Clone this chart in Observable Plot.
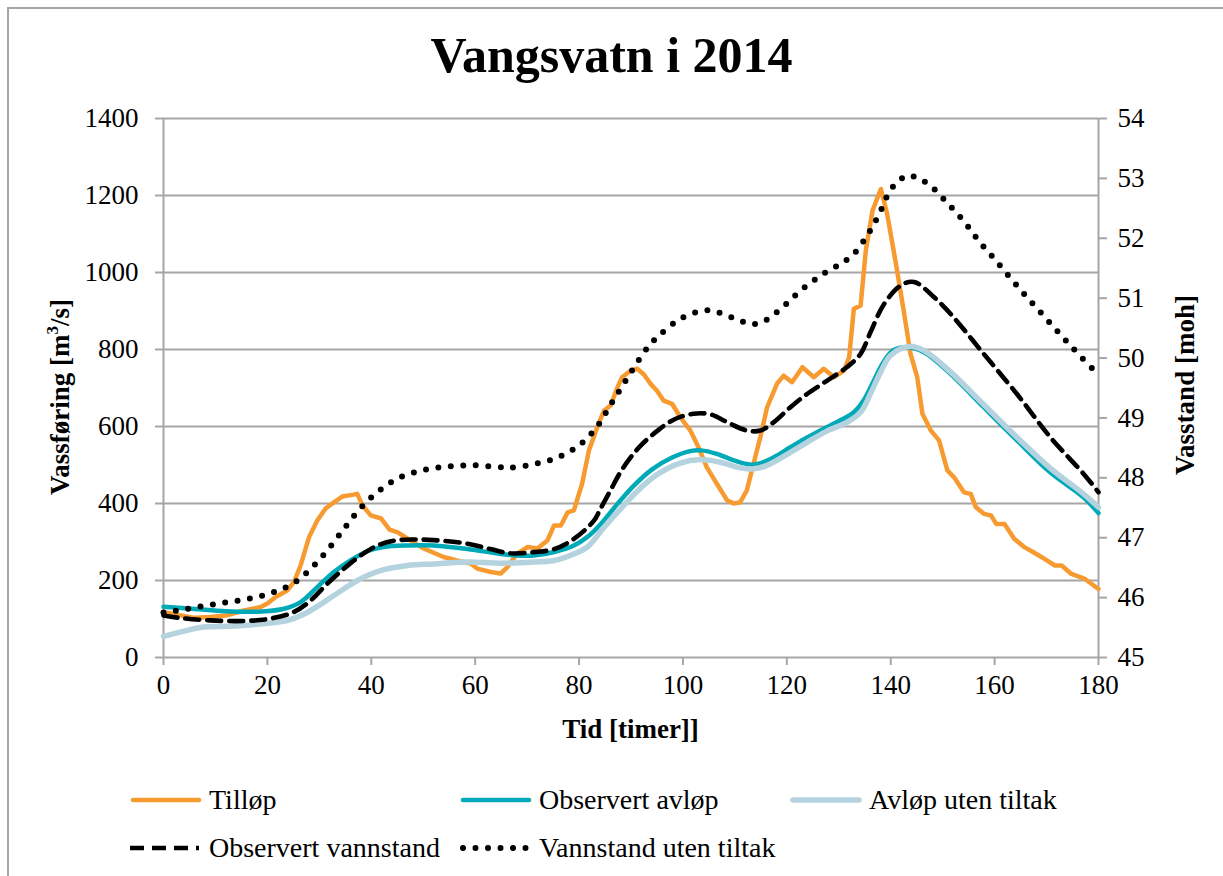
<!DOCTYPE html>
<html>
<head>
<meta charset="utf-8">
<script src="https://cdn.jsdelivr.net/npm/d3@7"></script>
<script src="https://cdn.jsdelivr.net/npm/@observablehq/plot@0.6"></script>
<style>
  html, body { margin: 0; padding: 0; background: #fff; }
  #page { position: relative; width: 1223px; height: 876px; overflow: hidden; font-family: "Liberation Serif", serif; color: #000; }
  .bt { position: absolute; left: 8px; top: 7px; width: 1215px; height: 2px; background: #a6a6a6; }
  .bl { position: absolute; left: 7px; top: 7px; width: 2px; height: 869px; background: #a6a6a6; }
  #title { position: absolute; left: 0; width: 1223px; top: 30px; text-align: center; font-weight: bold; font-size: 50px; line-height: 1; }
  #chart { position: absolute; left: 0; top: 0; }
  .axl { position: absolute; font-weight: bold; font-size: 27px; line-height: 1; white-space: nowrap; }
  .axl sup { font-size: 17px; vertical-align: 11px; line-height: 0; }
  .leg { position: absolute; display: flex; align-items: center; font-size: 28px; line-height: 1; white-space: nowrap; }
  .leg svg { margin-right: 7px; }
</style>
</head>
<body>
<div id="page">
  <div class="bt"></div><div class="bl"></div>
  <div id="title">Vangsvatn i 2014</div>
  <div id="chart"></div>
  <div class="axl" id="xl" style="left:0;width:1261px;text-align:center;top:716px;">Tid [timer]]</div>
  <div class="axl" id="yl" style="left:60px;top:397px;transform:translate(-50%,-50%) rotate(-90deg);">Vassføring [m<sup>3</sup>/s]</div>
  <div class="axl" id="yr" style="left:1185px;top:385px;transform:translate(-50%,-50%) rotate(-90deg);">Vasstand [moh]</div>
  <div id="legend"></div>
</div>
<script>
// ---------- data ----------
const xTicks = [0, 20, 40, 60, 80, 100, 120, 140, 160, 180];
const leftTicks = [0, 200, 400, 600, 800, 1000, 1200, 1400];
const rightTicks = [45, 46, 47, 48, 49, 50, 51, 52, 53, 54];

const tillopT = [0,3,6,9,12,15.5,18.7,20,21.6,23.8,25.1,26.4,28,29.6,31.2,32.8,34.4,36.6,37.3,38.3,39.9,41.9,43.5,45.1,47,50.1,53.9,56.5,59.1,60.4,63,64.9,66.2,68.1,70.1,72,73.9,75.2,76.5,77.8,79,80.6,81.9,83.5,84.8,86.1,87.4,88.3,89.9,91.2,92.5,93.8,95,96.3,97.9,99.5,101.4,103,104.6,106.5,108.5,109.8,111,112.3,113.6,114.9,116.2,118.1,119.4,121,123,125.2,127.1,129.1,131,132,132.9,134.2,135.2,136.5,138.1,139.3,140.9,142.5,143.8,145.1,146.1,147.7,149.3,150.9,152.2,154.1,155.4,156.4,158,159.3,160.3,161.9,163.8,165.8,167.4,169.6,171.6,172.9,174.8,177.4,180];
const tillopV = [118,110,103,105,109,122,131,140,157,174,196,239,312,356,387,403,418,423,425,395,369,361,332,325,309,283,261,252,244,231,222,218,235,270,287,283,304,343,343,377,382,452,538,598,641,655,702,728,745,750,735,710,693,667,659,624,590,546,494,452,408,400,403,434,504,572,650,711,732,715,754,728,750,728,745,780,906,914,1057,1161,1217,1153,1031,901,789,728,633,590,564,486,468,429,425,390,373,369,347,347,308,286,274,256,239,239,217,204,178];

const obsAvlopT = [0,6,12,18,23,26.4,29.6,32.8,36,39.2,42.4,47,52,58.5,64.9,68,71.3,75.2,79,81.6,84.2,87.4,90.6,94,98,101.4,103.5,106.5,109.8,113,115,117.5,120.7,124,127.1,130.3,132.9,134.8,136.5,138.5,140.5,143.2,146.4,151.5,157.9,164.3,170.7,177.1,180];
const obsAvlopV = [132,126,120,119,126,144,183,222,252,276,287,291,291,282,269,265,265,274,291,313,347,399,447,488,520,536,538,529,512,501,505,520,546,572,594,616,637,668,712,765,798,806,793,737,650,564,481,416,375];

const utenAvlopT = [0,3.2,7.7,12.3,18.7,23.8,27.1,30.9,34.7,38.6,42.4,47,52,58.5,64.9,71.3,75.2,79,81.6,84.8,88,91.2,95,99.5,103.3,107.2,111,113.6,116.2,120.7,123.9,127.7,131.6,134.2,136.1,138,140,143.5,146.4,151.5,157.9,164.3,170.7,177.1,180];
const utenAvlopV = [55,66,79,81,87,96,113,144,178,209,228,239,243,248,245,248,252,269,287,338,386,432,475,505,514,507,493,490,499,533,559,588,611,637,685,740,785,808,797,742,657,572,492,425,390];

const obsVannT = [0,3.2,9,15.5,20.6,25.1,28.3,31.5,34.7,37.9,41.2,44.4,48,52,58.5,62.9,66.8,71.3,75.2,79,82.9,84.1,86.1,88,90,92,95,98.2,102,105.3,108.5,112.3,114.9,117.5,120.7,123.9,127.7,131.6,134.2,136.1,138.7,141.9,144.5,148.3,151.5,157.9,164.3,170.7,177.1,180];
const obsVannV = [45.70,45.66,45.62,45.61,45.65,45.76,45.95,46.23,46.48,46.70,46.87,46.95,46.97,46.96,46.90,46.81,46.74,46.76,46.81,46.98,47.29,47.48,47.80,48.10,48.35,48.55,48.78,48.97,49.07,49.06,48.93,48.79,48.79,48.93,49.18,49.40,49.62,49.85,50.07,50.43,50.90,51.21,51.27,51.02,50.74,50.07,49.40,48.68,48.07,47.76];

const utenVannT = [0,2.3,7.1,11.9,16.4,21.2,25.4,29,32.2,35.1,38.1,41.6,45.6,50.1,54.8,59.6,64.4,66.8,71.4,75.9,80.1,83.5,86,88.6,91,93.6,95.7,99.4,103.7,106.1,110.6,112.9,115.3,119.2,122.7,126.6,130.4,132.6,135.5,137.8,139.7,141.2,143.3,145.5,147.6,151,154.2,157.1,160.2,163.3,166.4,169.6,172.8,176,180];
const utenVannV = [45.75,45.78,45.85,45.92,45.98,46.09,46.26,46.54,46.86,47.19,47.51,47.79,48.01,48.13,48.19,48.21,48.18,48.17,48.23,48.34,48.55,48.86,49.21,49.57,49.90,50.22,50.40,50.65,50.79,50.78,50.64,50.57,50.60,50.85,51.13,51.38,51.58,51.71,52.05,52.41,52.77,52.93,53.05,52.99,52.88,52.58,52.27,51.94,51.63,51.31,51.00,50.69,50.38,50.08,49.72];

// ---------- helpers ----------
const toLeft = m => (m - 45) * 1400 / 9;
const zip = (T, V, f = v => v) => T.map((t, i) => ({t, v: f(V[i])}));

const grey = "#a6a6a6";
const cOrange = "#F79A30", cTeal = "#00A9B8", cLight = "#B5D3DE";

const chart = Plot.plot({
  width: 1223,
  height: 760,
  marginLeft: 163,
  marginRight: 125,
  marginTop: 118,
  marginBottom: 103,
  style: {fontFamily: "Liberation Serif, serif", fontSize: "27px", color: "#000", background: "transparent"},
  x: {domain: [0, 180]},
  y: {domain: [0, 1400]},
  marks: [
    Plot.ruleY(leftTicks.slice(1), {stroke: grey, strokeWidth: 2}),
    Plot.ruleY([0], {stroke: grey, strokeWidth: 2}),
    Plot.ruleX([0, 180], {stroke: grey, strokeWidth: 2}),
    Plot.axisX({ticks: xTicks, tickSize: 8, tickPadding: 9, stroke: grey, strokeWidth: 2, fill: "#000", fontSize: 27, label: null, tickFormat: d => String(d)}),
    Plot.axisY({ticks: leftTicks, anchor: "left", tickSize: 8, tickPadding: 17, stroke: grey, strokeWidth: 2, fill: "#000", fontSize: 27, label: null, tickFormat: d => String(d)}),
    Plot.axisY({ticks: rightTicks.map(toLeft), anchor: "right", tickSize: 8, tickPadding: 11, stroke: grey, strokeWidth: 2, fill: "#000", fontSize: 27, label: null, tickFormat: d => String(Math.round(45 + d * 9 / 1400))}),
    Plot.line(zip(tillopT, tillopV), {x: "t", y: "v", stroke: cOrange, strokeWidth: 4.5, strokeLinejoin: "round"}),
    Plot.line(zip(obsAvlopT, obsAvlopV), {x: "t", y: "v", stroke: cTeal, strokeWidth: 4.5, curve: "catmull-rom"}),
    Plot.line(zip(utenAvlopT, utenAvlopV), {x: "t", y: "v", stroke: cLight, strokeWidth: 5.5, curve: "catmull-rom"}),
    Plot.line(zip(obsVannT, obsVannV, toLeft), {x: "t", y: "v", stroke: "#000", strokeWidth: 4.6, strokeDasharray: "14 8", curve: "catmull-rom"}),
    Plot.line(zip(utenVannT, utenVannV, toLeft), {x: "t", y: "v", stroke: "#000", strokeWidth: 6, strokeDasharray: "0 12.5", strokeLinecap: "round", curve: "catmull-rom"})
  ]
});
document.getElementById("chart").appendChild(chart);

// ---------- legend ----------
const legendItems = [
  {name: "Tilløp", color: cOrange, w: 4.5, dash: null, cap: "round", x: 130, y: 800},
  {name: "Observert avløp", color: cTeal, w: 4.5, dash: null, cap: "round", x: 460, y: 800},
  {name: "Avløp uten tiltak", color: cLight, w: 5.5, dash: null, cap: "round", x: 790, y: 800},
  {name: "Observert vannstand", color: "#000", w: 4.6, dash: "14 8", cap: "butt", x: 130, y: 848},
  {name: "Vannstand uten tiltak", color: "#000", w: 6, dash: "0 12.5", cap: "round", x: 460, y: 848}
];
const leg = document.getElementById("legend");
for (const it of legendItems) {
  const d = document.createElement("div");
  d.className = "leg";
  d.style.left = it.x + "px";
  d.style.top = (it.y - 16) + "px";
  d.style.height = "32px";
  const svg = d3.create("svg").attr("width", 72).attr("height", 12);
  svg.append("line").attr("x1", it.cap === "round" ? 3 : 0).attr("x2", 69).attr("y1", 6).attr("y2", 6)
    .attr("stroke", it.color).attr("stroke-width", it.w).attr("stroke-linecap", it.cap)
    .attr("stroke-dasharray", it.dash);
  d.appendChild(svg.node());
  const s = document.createElement("span");
  s.textContent = it.name;
  d.appendChild(s);
  leg.appendChild(d);
}
</script>
</body>
</html>
